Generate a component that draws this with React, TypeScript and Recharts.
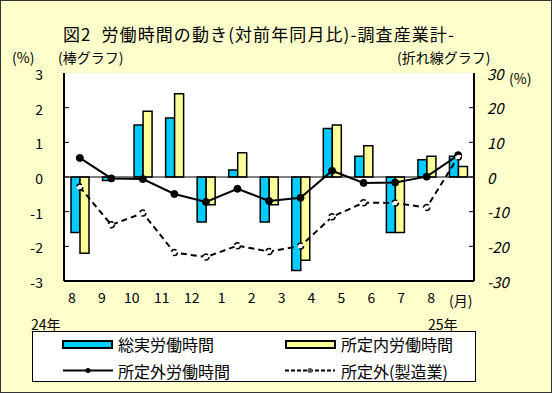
import React from 'react';
import { ComposedChart, Bar, Line, XAxis, YAxis, CartesianGrid, ReferenceLine } from 'recharts';

const months = ['8', '9', '10', '11', '12', '1', '2', '3', '4', '5', '6', '7', '8'];
// 棒グラフ (左軸)
const totalHours = [-1.6, -0.1, 1.5, 1.7, -1.3, 0.2, -1.3, -2.7, 1.4, 0.6, -1.6, 0.5, 0.6];
const scheduledHours = [-2.2, 0.0, 1.9, 2.4, -0.8, 0.7, -0.8, -2.4, 1.5, 0.9, -1.6, 0.6, 0.3];
// 折れ線グラフ (右軸)
const overtimeHours = [5.5, -0.4, -0.6, -4.9, -7.2, -3.4, -6.9, -6.0, 1.8, -1.7, -1.6, 0.1, 6.3];
const overtimeMfg = [-2.9, -13.8, -10.4, -21.8, -23.1, -19.8, -21.5, -19.9, -11.5, -7.4, -7.5, -8.8, 5.8];

const leftTicks = [-3, -2, -1, 0, 1, 2, 3];
const rightTicks = [-30, -20, -10, 0, 10, 20, 30];

const data = months.map((m, i) => ({
  i,
  month: m,
  total: totalHours[i],
  scheduled: scheduledHours[i],
  overtime: overtimeHours[i],
  mfg: overtimeMfg[i],
}));

const FONT = '"Noto Sans CJK JP", "Noto Sans", sans-serif';
const BLUE = '#00CCFF';
const YELLOW = '#FFFF99';
const BG = '#FFFFCC';

const LeftTick = (props: any) => {
  const { x, y, payload } = props;
  const v = payload.value;
  return (
    <g>
      {v !== 3 && v !== -3 && <line x1={x + 21} x2={x + 26} y1={y} y2={y} stroke="#000" strokeWidth={1} />}
      <text x={x} y={y + 1} textAnchor="end" dominantBaseline="central" fontSize={14} fontFamily={FONT} fill="#000">
        {v}
      </text>
    </g>
  );
};

const RightTick = (props: any) => {
  const { x, y, payload } = props;
  const v = payload.value;
  return (
    <g>
      {v !== 30 && v !== -30 && <line x1={x - 13} x2={x - 18} y1={y} y2={y} stroke="#000" strokeWidth={1} />}
      <text x={x} y={y} textAnchor="start" dominantBaseline="central" fontSize={15} fontStyle="italic" fontFamily={FONT} fill="#000">
        {v}
      </text>
    </g>
  );
};

const txt = (left: number, top: number, s: string, size = 14, spacing = 0): React.ReactNode => (
  <div style={{ position: 'absolute', left, top, fontSize: size, lineHeight: 1, whiteSpace: 'pre', letterSpacing: spacing }}>{s}</div>
);

const App: React.FC = () => {
  return (
    <div
      style={{
        position: 'absolute',
        left: 0,
        top: 0,
        width: 552,
        height: 393,
        background: BG,
        border: '1px solid #333',
        boxSizing: 'border-box',
        fontFamily: FONT,
        color: '#000',
      }}
    >
      <div style={{ position: 'absolute', left: -1, top: -1 }}>
        <ComposedChart width={552} height={393} data={data} margin={{ top: 73, right: 38, bottom: 82, left: 20 }} barGap={0}>
          <CartesianGrid horizontal={false} vertical={false} fill="#fff" xAxisId="cat" yAxisId="left" />
          <XAxis
            xAxisId="lbl"
            dataKey="i"
            type="number"
            domain={[-0.267, 13.43]}
            allowDataOverflow
            ticks={months.map((_, i) => i)}
            tickFormatter={(i: number) => months[i]}
            height={30}
            tickSize={0}
            tickMargin={12}
            axisLine={{ stroke: '#000', strokeWidth: 2 }}
            tick={{ fontSize: 14, fill: '#000', fontFamily: FONT }}
          />
          <XAxis xAxisId="cat" dataKey="i" type="category" height={0} hide />
          <XAxis
            xAxisId="top"
            orientation="top"
            dataKey="i"
            type="category"
            height={0}
            tick={false}
            tickLine={false}
            axisLine={{ stroke: '#000', strokeWidth: 2 }}
          />
          <YAxis
            yAxisId="left"
            domain={[-3, 3]}
            ticks={leftTicks}
            width={44}
            tickSize={0}
            tickMargin={21}
            axisLine={{ stroke: '#000', strokeWidth: 2 }}
            tick={<LeftTick />}
            interval={0}
          />
          <YAxis
            yAxisId="right"
            orientation="right"
            domain={[-30, 30]}
            ticks={rightTicks}
            width={40}
            tickSize={0}
            tickMargin={13}
            axisLine={{ stroke: '#000', strokeWidth: 2 }}
            tick={<RightTick />}
            interval={0}
          />
          <ReferenceLine xAxisId="cat" yAxisId="left" y={0} stroke="#000" strokeWidth={1} />
          <Bar xAxisId="cat" yAxisId="left" dataKey="total" fill={BLUE} stroke="#000" strokeWidth={1.5} barSize={9} isAnimationActive={false} />
          <Bar xAxisId="cat" yAxisId="left" dataKey="scheduled" fill={YELLOW} stroke="#000" strokeWidth={1.5} barSize={9} isAnimationActive={false} />
          <Line
            xAxisId="cat"
            yAxisId="right"
            dataKey="overtime"
            stroke="#000"
            strokeWidth={2}
            dot={{ r: 3.5, fill: '#000', stroke: '#000', strokeWidth: 1 }}
            isAnimationActive={false}
          />
          <Line
            xAxisId="cat"
            yAxisId="right"
            dataKey="mfg"
            stroke="#000"
            strokeWidth={2}
            strokeDasharray="6 4"
            dot={{ r: 3, fill: '#fff', stroke: '#000', strokeWidth: 1.5 }}
            isAnimationActive={false}
          />
        </ComposedChart>
      </div>

      {txt(62, 24, '図2  労働時間の動き(対前年同月比)-調査産業計-', 17, 1.1)}
      {txt(11, 49, '(%)')}
      {txt(57, 49, '(棒グラフ)')}
      {txt(396, 49, '(折れ線グラフ)')}
      {txt(508, 70, '(%)')}
      {txt(448, 292, '(月)')}
      {txt(30, 316, '24年')}
      {txt(427, 316, '25年')}

      <div
        style={{
          position: 'absolute',
          left: 31,
          top: 330,
          width: 444,
          height: 51,
          background: '#fff',
          border: '1px solid #000',
          boxSizing: 'border-box',
          fontSize: 16,
          lineHeight: 1,
          whiteSpace: 'pre',
        }}
      >
        <svg width={444} height={51} style={{ position: 'absolute', left: -1, top: -1 }}>
          <rect x={31} y={10} width={49} height={7} fill={BLUE} stroke="#000" strokeWidth={2} />
          <rect x={254} y={10} width={49} height={7} fill={YELLOW} stroke="#000" strokeWidth={2} />
          <line x1={31} x2={81} y1={39.5} y2={39.5} stroke="#000" strokeWidth={2} />
          <circle cx={56} cy={39.5} r={2.5} fill="#000" />
          <line x1={253} x2={303} y1={39.5} y2={39.5} stroke="#000" strokeWidth={2} strokeDasharray="4 2" />
          <circle cx={278} cy={39.5} r={2.5} fill="#555" />
        </svg>
        <div style={{ position: 'absolute', left: 85, top: 4 }}>総実労働時間</div>
        <div style={{ position: 'absolute', left: 308, top: 4 }}>所定内労働時間</div>
        <div style={{ position: 'absolute', left: 85, top: 31 }}>所定外労働時間</div>
        <div style={{ position: 'absolute', left: 308, top: 31 }}>所定外(製造業)</div>
      </div>
    </div>
  );
};

export default App;
